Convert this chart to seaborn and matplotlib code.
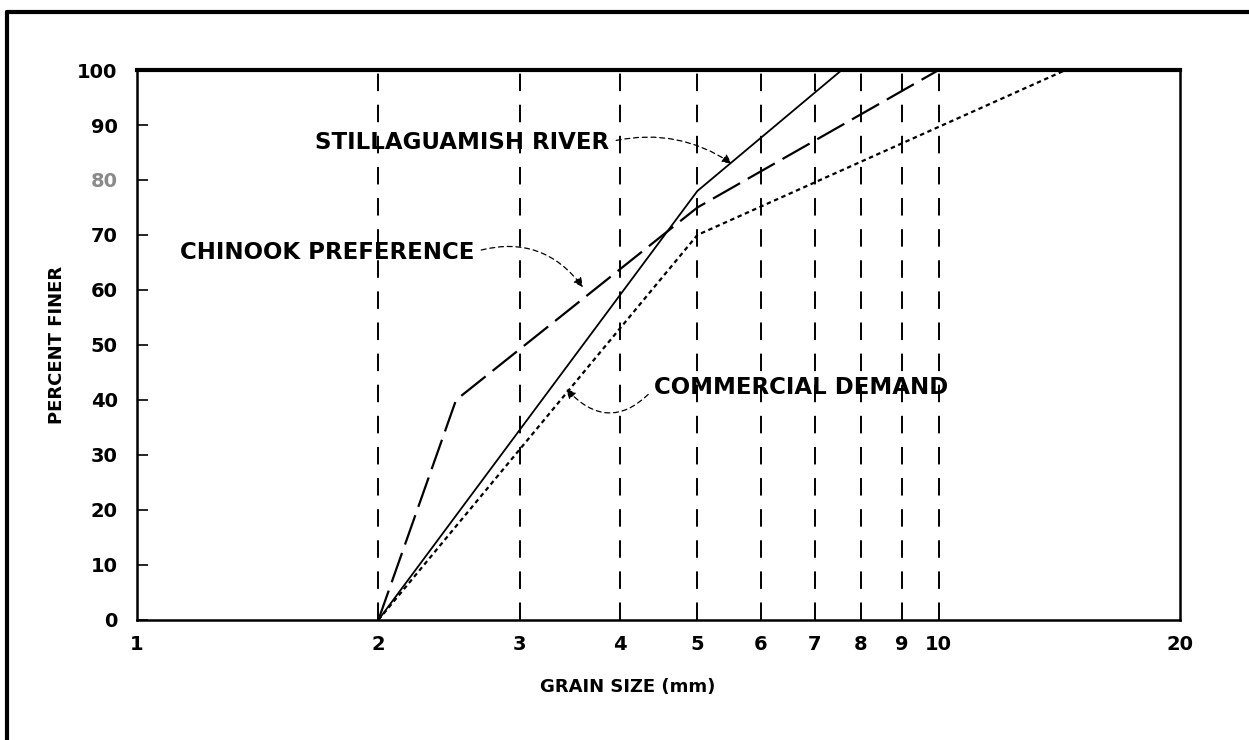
import numpy as np
import pandas as pd
import matplotlib
matplotlib.use("Agg")
import matplotlib.pyplot as plt
import seaborn as sns

# grain size curves (mm, percent finer)
still_x = [2, 5, 7.57]
still_y = [0, 78, 100]

chinook_x = [2, 2.5, 5, 10]
chinook_y = [0, 40, 75, 100]

commercial_x = [2, 5, 14.4]
commercial_y = [0, 70, 100]

grid_x = [2, 3, 4, 5, 6, 7, 8, 9, 10]
xticks = [1, 2, 3, 4, 5, 6, 7, 8, 9, 10, 20]
yticks = [0, 10, 20, 30, 40, 50, 60, 70, 80, 90, 100]

sns.set_theme(style="white")
plt.rcParams['font.family'] = ['DejaVu Sans']
plt.rcParams['text.color'] = 'black'
plt.rcParams['axes.labelcolor'] = 'black'
plt.rcParams['xtick.color'] = 'black'
plt.rcParams['ytick.color'] = 'black'

fig = plt.figure(figsize=(12.49, 7.4), dpi=100)
ax = fig.add_axes([0.1097, 0.1622, 0.9448 - 0.1097, 0.9054 - 0.1622])
ax.set_xscale('log')

# dashed verticals
for gx in grid_x:
    ax.plot([gx, gx], [0, 100], color='black', lw=1.4, dashes=(9, 7), zorder=1)

df_s = pd.DataFrame({'x': still_x, 'y': still_y})
df_c = pd.DataFrame({'x': chinook_x, 'y': chinook_y})
df_m = pd.DataFrame({'x': commercial_x, 'y': commercial_y})

sns.lineplot(data=df_s, x='x', y='y', ax=ax, color='black', lw=1.3, sort=False)
sns.lineplot(data=df_c, x='x', y='y', ax=ax, color='black', lw=1.6, sort=False)
sns.lineplot(data=df_m, x='x', y='y', ax=ax, color='black', lw=1.6, sort=False)
ax.lines[-2].set_dashes((14, 4))
ax.lines[-1].set_dashes((2, 1.6))

ax.set_xlim(1, 20)
ax.set_ylim(0, 100)

ax.set_xticks(xticks)
ax.set_xticklabels([str(t) for t in xticks])
ax.xaxis.set_minor_locator(matplotlib.ticker.NullLocator())
ax.set_yticks(yticks)
ax.set_yticklabels([str(t) for t in yticks])
ax.tick_params(axis='x', length=0, pad=11, labelsize=14, labelcolor='black')
ax.tick_params(axis='y', direction='in', length=8, width=1.2, pad=14, labelsize=14,
               left=True, labelcolor='black')
for lab in ax.get_xticklabels() + ax.get_yticklabels():
    lab.set_fontweight('bold')
ax.get_yticklabels()[8].set_color('#8a8a8a')

for side in ['left', 'right', 'bottom']:
    ax.spines[side].set_color('black')
    ax.spines[side].set_linewidth(1.8)
ax.spines['top'].set_color('black')
ax.spines['top'].set_linewidth(3)

ax.set_xlabel('GRAIN SIZE (mm)', fontsize=13, fontweight='bold', color='black')
ax.xaxis.set_label_coords(0.47, -0.105)
ax.set_ylabel('PERCENT FINER', fontsize=13, fontweight='bold', color='black')
ax.yaxis.set_label_coords(-0.068, 0.5)

txt = dict(fontsize=16.5, fontweight='bold', color='black', va='center')


def arr(rad, relpos):
    return dict(arrowstyle='-|>', color='black', lw=0.9, linestyle=(0, (4, 3)),
                mutation_scale=14, shrinkA=3, shrinkB=0, relpos=relpos,
                connectionstyle=f'arc3,rad={rad}')


ax.annotate('STILLAGUAMISH RIVER', xy=(5.52, 83.0), xytext=(1.666, 86.9),
            ha='left', arrowprops=arr(-0.22, (1, 0.5)), **txt)

ax.annotate('CHINOOK PREFERENCE', xy=(3.6, 60.5), xytext=(1.13, 66.9),
            ha='left', arrowprops=arr(-0.35, (1, 0.5)), **txt)

ax.annotate('COMMERCIAL DEMAND', xy=(3.43, 42.0), xytext=(4.42, 42.2),
            ha='left', arrowprops=arr(-0.55, (0, 0.5)), **txt)

# scan border (left and top edges)
fig.add_artist(plt.Line2D([0.006, 0.006], [0, 0.984], color='black', lw=3, transform=fig.transFigure))
fig.add_artist(plt.Line2D([0.006, 1.0], [0.984, 0.984], color='black', lw=3, transform=fig.transFigure))

fig.savefig('out.png', dpi=100, facecolor='white')
